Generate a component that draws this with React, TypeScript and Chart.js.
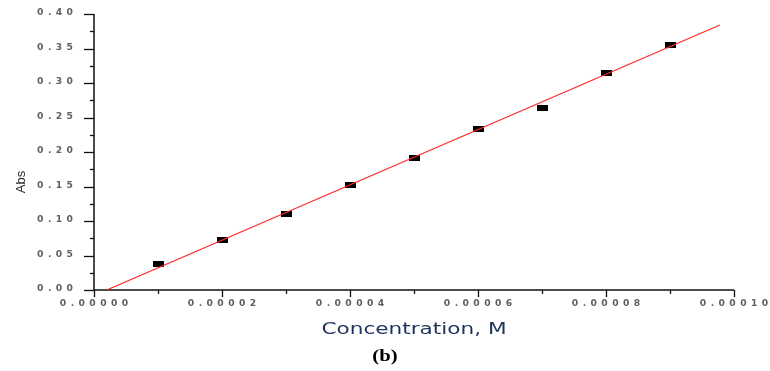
import React, { useEffect, useRef } from 'react';
import { Chart, registerables } from 'chart.js';

Chart.register(...registerables);

// ---- data ----
const concentrations = [0.00001, 0.00002, 0.00003, 0.00004, 0.00005, 0.00006, 0.00007, 0.00008, 0.00009];
const absorbances = [0.038, 0.0725, 0.11, 0.152, 0.192, 0.234, 0.264, 0.314, 0.355];
const fitLineX = [0.00000198, 0.0000978];
const fitLineY = [0, 0.384];
const xTickLabels = ['0.00000', '0.00002', '0.00004', '0.00006', '0.00008', '0.00010'];
const yTickLabels = ['0.00', '0.05', '0.10', '0.15', '0.20', '0.25', '0.30', '0.35', '0.40'];
const xTitle = 'Concentration, M';
const yTitle = 'Abs';
const panelLabel = '(b)';

function makeMarker(): HTMLCanvasElement {
  const c = document.createElement('canvas');
  c.width = 11;
  c.height = 6;
  const g = c.getContext('2d')!;
  g.fillStyle = '#000000';
  g.fillRect(0, 0, 11, 6);
  return c;
}

function drawSpaced(
  ctx: CanvasRenderingContext2D,
  text: string,
  x: number,
  cy: number,
  align: 'center' | 'right'
) {
  const sx = 1.15;
  const gap = 4.4;
  ctx.save();
  ctx.font = 'bold 8px "DejaVu Sans"';
  ctx.fillStyle = '#5f5f5f';
  ctx.textBaseline = 'middle';
  ctx.textAlign = 'left';
  const widths = text.split('').map((ch) => ctx.measureText(ch).width * sx);
  const total = widths.reduce((a, b) => a + b, 0) + gap * (text.length - 1);
  let px = align === 'center' ? x - total / 2 : x - total;
  text.split('').forEach((ch, i) => {
    ctx.save();
    ctx.translate(px, cy);
    ctx.scale(sx, 1);
    ctx.fillText(ch, 0, 0);
    ctx.restore();
    px += widths[i] + gap;
  });
  ctx.restore();
}

function drawStretched(
  ctx: CanvasRenderingContext2D,
  text: string,
  cx: number,
  cy: number,
  font: string,
  color: string,
  sx: number,
  rotate = false
) {
  ctx.save();
  ctx.font = font;
  ctx.fillStyle = color;
  ctx.textBaseline = 'middle';
  ctx.textAlign = 'center';
  ctx.translate(cx, cy);
  if (rotate) ctx.rotate(-Math.PI / 2);
  ctx.scale(sx, 1);
  ctx.fillText(text, 0, 0);
  ctx.restore();
}

const axesPlugin = {
  id: 'originAxes',
  beforeDatasetsDraw(chart: any) {
    const ctx: CanvasRenderingContext2D = chart.ctx;
    const { left, right, top, bottom } = chart.chartArea;
    const xs = chart.scales.x;
    const ys = chart.scales.y;
    ctx.save();
    ctx.strokeStyle = '#111111';
    ctx.lineWidth = 1.5;
    ctx.beginPath();
    ctx.moveTo(left, top);
    ctx.lineTo(left, bottom);
    ctx.lineTo(right, bottom);
    ctx.stroke();
    ctx.lineWidth = 1.3;
    xs.ticks.forEach((t: any, i: number) => {
      const px = Math.round(xs.getPixelForValue(t.value)) + 0.5;
      const len = i % 2 === 0 ? 7 : 4;
      ctx.beginPath();
      ctx.moveTo(px, bottom);
      ctx.lineTo(px, bottom + len);
      ctx.stroke();
    });
    ys.ticks.forEach((t: any, i: number) => {
      const py = Math.round(ys.getPixelForValue(t.value)) + 0.5;
      const len = i % 2 === 0 ? 10 : 4;
      ctx.beginPath();
      ctx.moveTo(left, py);
      ctx.lineTo(left - len, py);
      ctx.stroke();
    });
    ctx.restore();
  },
  afterDraw(chart: any) {
    const ctx: CanvasRenderingContext2D = chart.ctx;
    const { left, right, bottom } = chart.chartArea;
    const xs = chart.scales.x;
    const ys = chart.scales.y;
    xs.ticks.forEach((t: any) => {
      if (!t.label) return;
      drawSpaced(ctx, String(t.label), xs.getPixelForValue(t.value), bottom + 13.5, 'center');
    });
    ys.ticks.forEach((t: any) => {
      if (!t.label) return;
      drawSpaced(ctx, String(t.label), left - 21, ys.getPixelForValue(t.value) - 1, 'right');
    });
    drawStretched(ctx, xTitle, (left + right) / 2, bottom + 40, '15px "DejaVu Sans"', '#1d325c', 1.44);
    drawStretched(ctx, yTitle, 21, 182, '13px "Liberation Sans Narrow", "Liberation Sans"', '#2a2a2a', 1.0, true);
    drawStretched(ctx, panelLabel, 385, 357, 'bold 16px "Liberation Serif"', '#000000', 1.3);
  },
};

export default function App() {
  const ref = useRef<HTMLCanvasElement | null>(null);

  useEffect(() => {
    if (!ref.current) return;
    const marker = makeMarker();
    const chart = new Chart(ref.current, {
      type: 'scatter',
      data: {
        datasets: [
          {
            type: 'line',
            label: 'Linear fit',
            data: fitLineX.map((x, i) => ({ x, y: fitLineY[i] })),
            borderColor: '#ff2a2a',
            borderWidth: 1.2,
            pointRadius: 0,
            fill: false,
            tension: 0,
          } as any,
          {
            label: 'Abs',
            data: concentrations.map((x, i) => ({ x, y: absorbances[i] })),
            pointStyle: marker as any,
            pointRadius: 5,
            backgroundColor: '#000000',
            borderColor: '#000000',
          },
        ],
      },
      options: {
        responsive: false,
        animation: false,
        layout: { padding: { left: 0, top: 14, right: 36, bottom: 0 } },
        plugins: {
          legend: { display: false },
          tooltip: { enabled: false },
        },
        scales: {
          x: {
            type: 'linear',
            min: 0,
            max: 0.0001,
            afterFit: (s: any) => {
              s.height = 81;
            },
            ticks: {
              display: false,
              stepSize: 0.00001,
              callback: (_v: any, i: number) => (i % 2 === 0 ? xTickLabels[i / 2] : ''),
            },
            grid: { display: false },
            border: { display: false },
          },
          y: {
            type: 'linear',
            min: 0,
            max: 0.4,
            afterFit: (s: any) => {
              s.width = 94;
            },
            ticks: {
              display: false,
              stepSize: 0.025,
              callback: (_v: any, i: number) => (i % 2 === 0 ? yTickLabels[i / 2] : ''),
            },
            grid: { display: false },
            border: { display: false },
          },
        },
      },
      plugins: [axesPlugin],
    });
    return () => chart.destroy();
  }, []);

  return (
    <div style={{ position: 'absolute', left: 0, top: 0, width: 770, height: 371, background: '#ffffff' }}>
      <canvas ref={ref} width={770} height={371} style={{ display: 'block' }} />
    </div>
  );
}
